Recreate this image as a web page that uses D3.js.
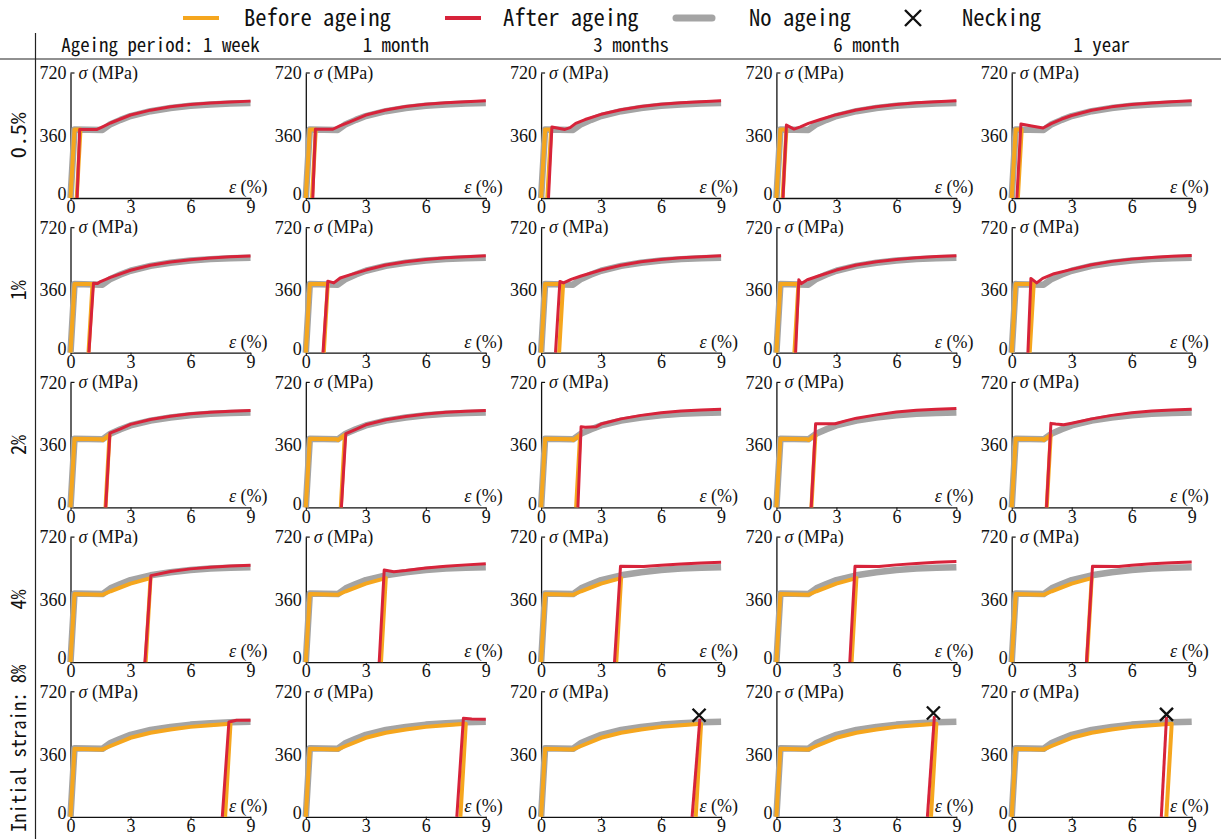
<!DOCTYPE html>
<html>
<head>
<meta charset="utf-8">
<script src="https://cdn.jsdelivr.net/npm/d3@7"></script>
<style>
  html, body { margin: 0; padding: 0; background: #fff; }
  svg { display: block; }
</style>
</head>
<body>
<svg id="chart" width="1221" height="839"></svg>
<script>
// ---------------- DATA ----------------
const strainTicks = [0, 3, 6, 9];
const stressTicks = [0, 360, 720];
const periods = ["Ageing period: 1 week", "1 month", "3 months", "6 month", "1 year"];
const initialStrains = ["0.5%", "1%", "2%", "4%", "Initial strain: 8%"];
const legendLabels = ["Before ageing", "After ageing", "No ageing", "Necking"];

// No ageing (grey) curve: [strain %, stress MPa]
const noAgeing = [[0,0],[0.2,395],[1.6,392],[2,425],[2.5,450],[3,472],[4,500],[5,518],[6,531],[7,539],[8,544],[9,547]];

// Before ageing (orange) curve per initial strain
const before05 = [[0,0],[0.2,395],[0.5,395],[0.31,0]];
const before1  = [[0,0],[0.2,395],[1.1,395],[0.9,0]];
const before2  = [[0,0],[0.2,395],[1.5,393],[1.6,388],[1.95,418],[1.75,0]];
const before4  = [[0,0],[0.2,392],[1.6,388],[2,408],[3,452],[4,484],[3.76,0]];
const before8  = [[0,0],[0.2,392],[1.6,388],[2,408],[3,455],[4,484],[5,503],[6,518],[7,528],[8,536],[7.73,0]];

// After ageing (red) curves: per initial strain, one per ageing period
const after05 = [
  [[0.33,0],[0.46,395],[1.3,394],[1.6,410],[2,432],[3,478],[4,506],[5,525],[6,538],[7,547],[8,553],[9,558]],
  [[0.35,0],[0.48,396],[1.35,396],[1.7,415],[2.2,438],[3,478],[4,507],[5,527],[6,540],[7,549],[8,555],[9,560]],
  [[0.37,0],[0.54,409],[0.8,403],[1.19,395],[1.45,405],[1.73,430],[2.2,452],[3,482],[4,508],[5,527],[6,540],[7,549],[8,555],[9,560]],
  [[0.33,0],[0.5,420],[0.88,397],[1.2,410],[1.6,430],[2.2,452],[3,480],[4,507],[5,526],[6,539],[7,548],[8,554],[9,560]],
  [[0.26,0],[0.46,426],[1.0,415],[1.57,403],[2,430],[2.5,455],[3,475],[4,505],[5,525],[6,538],[7,547],[8,554],[9,560]]
];
const after1 = [
  [[0.92,0],[1.15,400],[1.35,398],[1.5,410],[2,434],[3,475],[4,504],[5,523],[6,536],[7,546],[8,552],[9,557]],
  [[0.86,0],[1.1,412],[1.4,402],[1.72,430],[2.2,448],[3,476],[4,505],[5,524],[6,537],[7,547],[8,553],[9,558]],
  [[0.72,0],[0.94,410],[1.12,402],[1.5,422],[2,442],[3,476],[4,504],[5,524],[6,537],[7,547],[8,553],[9,558]],
  [[0.96,0],[1.12,420],[1.25,398],[1.55,420],[2.1,442],[3,476],[4,505],[5,524],[6,537],[7,547],[8,554],[9,559]],
  [[0.81,0],[0.96,428],[1.25,402],[1.55,428],[2.12,455],[3,480],[4,507],[5,526],[6,539],[7,548],[8,555],[9,560]]
];
const after2 = [
  [[1.76,0],[1.97,428],[2.5,452],[3,478],[4,506],[5,525],[6,539],[7,548],[8,554],[9,558]],
  [[1.78,0],[2.0,425],[2.5,450],[3,476],[4,505],[5,524],[6,538],[7,548],[8,554],[9,558]],
  [[1.84,0],[2.0,465],[2.2,462],[2.76,465],[3,480],[4,510],[5,530],[6,545],[7,555],[8,561],[9,566]],
  [[1.74,0],[1.96,482],[2.94,482],[3.5,500],[4,514],[5,533],[6,550],[7,560],[8,566],[9,570]],
  [[1.74,0],[1.96,484],[2.2,480],[2.6,476],[3,485],[4,510],[5,530],[6,545],[7,555],[8,561],[9,566]]
];
const after4 = [
  [[3.72,0],[4.02,498],[5,522],[6,537],[7,547],[8,553],[9,558]],
  [[3.67,0],[3.92,530],[4.4,520],[5,527],[6,542],[7,552],[8,560],[9,566]],
  [[3.67,0],[3.97,552],[5.13,550],[6,558],[7,565],[8,571],[9,575]],
  [[3.67,0],[3.93,552],[5.13,550],[6,560],[7,568],[8,575],[9,580]],
  [[3.74,0],[4.04,552],[5.36,550],[6,558],[7,566],[8,572],[9,577]]
];
const after8 = [
  [[7.59,0],[7.92,546],[8.3,556],[9,556]],
  [[7.55,0],[7.88,567],[8.3,563],[9,562]],
  [[7.55,0],[7.94,565]],
  [[7.55,0],[7.9,580]],
  [[7.48,0],[7.74,575]]
];
// Necking points in the 8% row (null = no necking)
const necking8 = [null, null, [7.9,585], [7.85,598], [7.74,590]];

const beforeAgeing = [before05, before1, before2, before4, before8];
const afterAgeing = [after05, after1, after2, after4, after8];

// ---------------- LAYOUT ----------------
const COL_X0 = 70.5, COL_STEP = 235.3, PANEL_W = 180;
const ROW_BASE0 = 198, ROW_STEP = 154.7, PANEL_H = 125;
const C_ORANGE = "#F5A61E", C_RED = "#D7233A", C_GREY = "#A4A4A4";
const MONO = "'Noto Sans Mono CJK JP', 'DejaVu Sans Mono', monospace";
const SERIF = "'Liberation Serif', 'Times New Roman', Times, serif";

const svg = d3.select("#chart");

function monoText(sel, str, x, y, size, charW, anchor) {
  return sel.append("text")
    .attr("x", x).attr("y", y)
    .style("font-family", MONO)
    .attr("font-size", size)
    .attr("fill", "#111")
    .attr("text-anchor", anchor || "start")
    .attr("dominant-baseline", "central")
    .attr("textLength", str.length * charW)
    .attr("lengthAdjust", "spacingAndGlyphs")
    .text(str);
}

// ---------------- FRAME ----------------
svg.append("line").attr("x1", 35.5).attr("x2", 35.5).attr("y1", 33).attr("y2", 839)
  .attr("stroke", "#222").attr("stroke-width", 1.2);
svg.append("line").attr("x1", 0).attr("x2", 1221).attr("y1", 59).attr("y2", 59)
  .attr("stroke", "#222").attr("stroke-width", 1.2);

// ---------------- LEGEND ----------------
const legendX = [183, 445, 676, 903];
const legendTextX = [244, 503, 749, 962];
const legendStyles = [
  {color: C_ORANGE, w: 4},
  {color: C_RED, w: 4},
  {color: C_GREY, w: 7}
];
const LEG_Y = 18;
legendLabels.forEach((lab, i) => {
  const g = svg.append("g");
  if (i < 3) {
    g.append("line").attr("x1", legendX[i]).attr("x2", legendX[i] + 36)
      .attr("y1", LEG_Y).attr("y2", LEG_Y)
      .attr("stroke", legendStyles[i].color).attr("stroke-width", legendStyles[i].w)
      .attr("stroke-linecap", i === 2 ? "round" : "butt");
  } else {
    const cx = legendX[i] + 10, s = 8;
    g.append("path").attr("d", `M${cx - s},${LEG_Y - s}L${cx + s},${LEG_Y + s}M${cx - s},${LEG_Y + s}L${cx + s},${LEG_Y - s}`)
      .attr("stroke", "#111").attr("stroke-width", 2.4).attr("fill", "none");
  }
  monoText(g, lab, legendTextX[i], LEG_Y - 2, 22.6, 11.3, "start");
});

// ---------------- HEADERS ----------------
periods.forEach((p, c) => {
  const cx = COL_X0 + c * COL_STEP + PANEL_W / 2;
  monoText(svg, p, cx, 43, 18.9, 9.45, "middle");
});
initialStrains.forEach((s, r) => {
  let cy = ROW_BASE0 + r * ROW_STEP - PANEL_H / 2;
  let cw = 10;
  if (s.length > 4) { cy -= 6; cw = 9.3; }
  else if (s.includes(".")) { cw = 11.5; }
  const g = svg.append("g").attr("transform", `translate(17,${cy}) rotate(-90)`);
  monoText(g, s, 0, 0, 20.5, cw, "middle");
});

// ---------------- PANELS ----------------
const x = d3.scaleLinear().domain([0, 9]).range([0, PANEL_W]);
const y = d3.scaleLinear().domain([0, 720]).range([0, -PANEL_H]);
const line = d3.line().x(d => x(d[0])).y(d => y(d[1]));

for (let r = 0; r < 5; r++) {
  for (let c = 0; c < 5; c++) {
    const g = svg.append("g")
      .attr("transform", `translate(${COL_X0 + c * COL_STEP},${ROW_BASE0 + r * ROW_STEP})`);

    // axes
    const xAxis = g.append("g").call(
      d3.axisBottom(x).tickValues(strainTicks).tickSize(3).tickSizeOuter(0).tickPadding(1)
    );
    xAxis.attr("font-family", null);
    xAxis.select(".domain").attr("stroke", "#111").attr("stroke-width", 1.3);
    xAxis.selectAll(".tick line").attr("stroke", "#111").attr("stroke-width", 1.1);
    xAxis.selectAll(".tick text").style("font-family", SERIF).attr("font-size", 18)
      .attr("fill", "#111").attr("dy", "0.62em");

    const yAxis = g.append("g").call(
      d3.axisLeft(y).tickValues(stressTicks).tickSize(0).tickSizeOuter(0).tickPadding(4)
    );
    yAxis.attr("font-family", null);
    yAxis.select(".domain").attr("stroke", "#111").attr("stroke-width", 1.3);
    yAxis.selectAll(".tick text").style("font-family", SERIF).attr("font-size", 18)
      .attr("fill", "#111")
      .attr("dy", d => d === 0 ? "0.1em" : "0.32em");
    // small top tick pointing right
    g.append("line").attr("x1", 0).attr("x2", 4).attr("y1", y(720)).attr("y2", y(720))
      .attr("stroke", "#111").attr("stroke-width", 1.2);

    // axis titles
    const st = g.append("text").attr("x", 8).attr("y", y(720)).attr("dy", "0.32em")
      .style("font-family", SERIF).attr("font-size", 18).attr("fill", "#111");
    st.append("tspan").attr("font-style", "italic").text("σ");
    st.append("tspan").text(" (MPa)");
    const et = g.append("text").attr("x", x(9) + 17).attr("y", -5)
      .attr("text-anchor", "end")
      .style("font-family", SERIF).attr("font-size", 18).attr("fill", "#111");
    et.append("tspan").attr("font-style", "italic").text("ε");
    et.append("tspan").text(" (%)");

    // curves
    g.append("path").datum(noAgeing).attr("d", line)
      .attr("fill", "none").attr("stroke", C_GREY).attr("stroke-width", 6.5)
      .attr("stroke-linejoin", "round");
    g.append("path").datum(beforeAgeing[r]).attr("d", line)
      .attr("fill", "none").attr("stroke", C_ORANGE).attr("stroke-width", 4)
      .attr("stroke-linejoin", "round");
    g.append("path").datum(afterAgeing[r][c]).attr("d", line)
      .attr("fill", "none").attr("stroke", C_RED).attr("stroke-width", 3)
      .attr("stroke-linejoin", "round");

    if (r === 4 && necking8[c]) {
      const p = necking8[c], px = x(p[0]), py = y(p[1]), s = 6.5;
      g.append("path")
        .attr("d", `M${px - s},${py - s}L${px + s},${py + s}M${px - s},${py + s}L${px + s},${py - s}`)
        .attr("stroke", "#111").attr("stroke-width", 2.4).attr("fill", "none");
    }
  }
}
</script>
</body>
</html>
